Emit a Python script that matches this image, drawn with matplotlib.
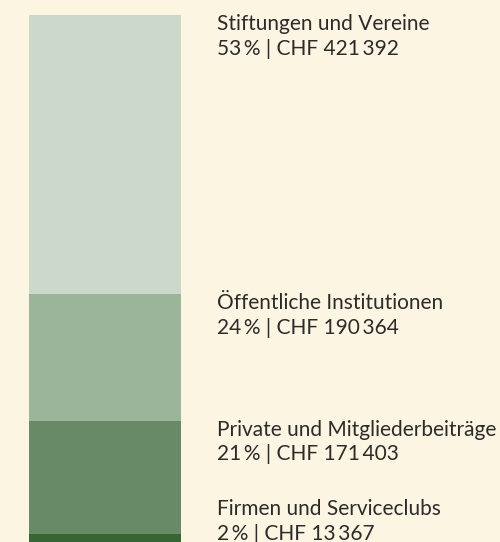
import matplotlib.pyplot as plt

# data
categories = ["Stiftungen und Vereine", "Öffentliche Institutionen",
              "Private und Mitgliederbeiträge", "Firmen und Serviceclubs"]
amounts = [421392, 190364, 171403, 13367]
percents = [53, 24, 21, 2]
colors = ["#cdd8cc", "#9ab59a", "#688a66", "#356633"]

bg = "#fcf5e1"
W, H = 500, 542
top_px, bar_px = 15, 528  # bar top and full bar height in pixels

total = sum(amounts)
per_px = total / bar_px

fig = plt.figure(figsize=(W / 100, H / 100), dpi=100)
fig.patch.set_facecolor(bg)
ax = fig.add_axes([0, 0, 1, 1])
ax.set_facecolor(bg)
ax.set_xlim(0, W)
ax.set_ylim((H - top_px) * per_px, -top_px * per_px)
ax.axis("off")

def fmt(n):
    s = f"{n:,}".replace(",", "\u2009")
    return s

cum = 0
label_y = []
for amt, col in zip(amounts, colors):
    ax.bar(105, amt, width=152, bottom=cum, color=col, linewidth=0)
    label_y.append(cum)
    cum += amt

# keep last label inside picture
limit = (H - top_px - 42) * per_px
for i, (cat, pct, amt) in enumerate(zip(categories, percents, amounts)):
    y = min(label_y[i], limit)
    txt = f"{cat}\n{pct}\u2009% | CHF {fmt(amt)}"
    ax.text(217, y - 1 * per_px, txt, va="top", ha="left", fontsize=15,
            color="#2b2b2b", family=["Lato", "DejaVu Sans"], linespacing=1.3)

fig.savefig("out.png", dpi=100, facecolor=bg)
